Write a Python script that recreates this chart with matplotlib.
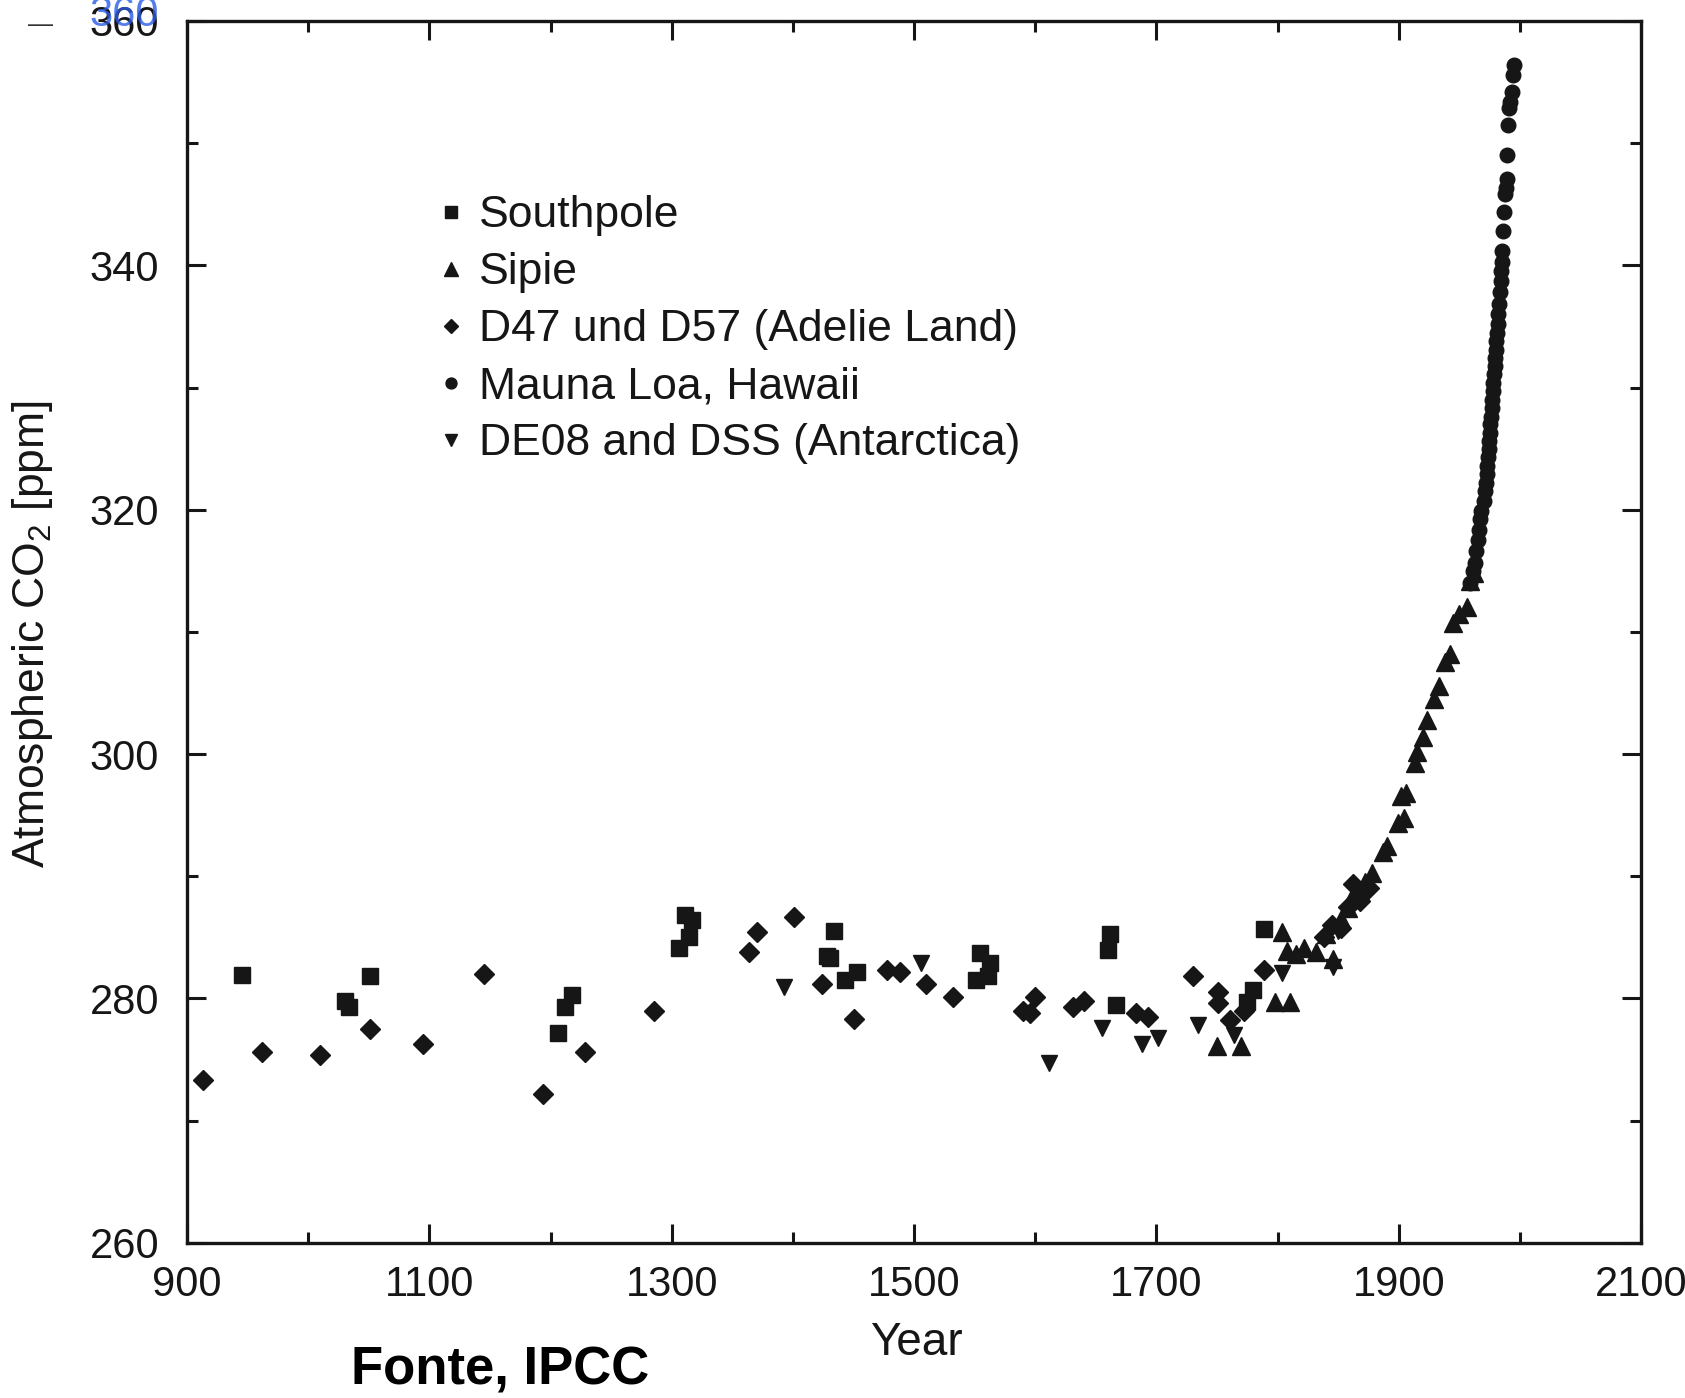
import matplotlib
matplotlib.use("Agg")
import matplotlib.pyplot as plt
from matplotlib.ticker import MultipleLocator

plt.rcParams['font.family'] = ['Liberation Sans', 'DejaVu Sans']
plt.rcParams['mathtext.fontset'] = 'custom'
plt.rcParams['mathtext.rm'] = 'Liberation Sans'
plt.rcParams['mathtext.it'] = 'Liberation Sans:italic'

# Southpole (squares)
southpole_year = [945, 1030, 1034, 1051, 1206, 1212, 1218, 1306, 1314, 1311,
                  1317, 1428, 1431, 1434, 1443, 1453, 1551, 1554, 1561, 1563,
                  1660, 1662, 1667, 1775, 1780, 1789]
southpole_co2 = [281.9, 279.8, 279.3, 281.8, 277.2, 279.3, 280.3, 284.1, 285.0, 286.8,
                 286.4, 283.5, 283.3, 285.5, 281.5, 282.2, 281.5, 283.7, 281.8, 282.9,
                 284.0, 285.3, 279.5, 279.7, 280.7, 285.7]

# Siple (up triangles)
sipie_year = [1750, 1770, 1798, 1804, 1808, 1810, 1815, 1822, 1832, 1840,
              1846, 1852, 1858, 1863, 1868, 1872, 1878, 1887, 1890, 1899,
              1902, 1904, 1906, 1913, 1915, 1920, 1923, 1929, 1933, 1938,
              1942, 1945, 1950, 1956, 1959, 1962]
sipie_co2 = [276.1, 276.1, 279.7, 285.4, 283.9, 279.7, 283.6, 284.1, 283.8, 285.3,
             283.2, 286.5, 287.4, 288.6, 288.8, 289.5, 290.3, 292.0, 292.5, 294.4,
             296.6, 294.8, 296.8, 299.3, 300.2, 301.4, 302.8, 304.5, 305.6, 307.5,
             308.2, 310.7, 311.5, 312.0, 314.2, 314.8]

# D47 / D57 Adelie Land (diamonds)
adelie_year = [913, 962, 1010, 1051, 1095, 1145, 1194, 1228, 1285, 1364,
               1370, 1401, 1424, 1450, 1478, 1488, 1510, 1532, 1590, 1596,
               1600, 1631, 1640, 1683, 1693, 1730, 1751, 1751, 1761, 1772,
               1789, 1838, 1845, 1852, 1858, 1862, 1868, 1875]
adelie_co2 = [273.3, 275.6, 275.4, 277.5, 276.3, 282.0, 272.2, 275.6, 279.0, 283.8,
              285.4, 286.7, 281.2, 278.3, 282.3, 282.2, 281.2, 280.1, 279.0, 278.8,
              280.1, 279.3, 279.8, 278.8, 278.5, 281.8, 280.5, 279.6, 278.2, 279.0,
              282.3, 285.0, 286.0, 285.8, 287.5, 289.4, 288.0, 289.0]

# Mauna Loa (circles)
maunaloa_year = [1959, 1961, 1963, 1964, 1965, 1966, 1967, 1968, 1970, 1971,
                 1972, 1972.5, 1973, 1973.5, 1974, 1974.5, 1975, 1975.5, 1976, 1976.5,
                 1977, 1977.5, 1978, 1978.5, 1979, 1979.5, 1980, 1980.5, 1981, 1981.5,
                 1982, 1982.5, 1983.5, 1984, 1984.5, 1985, 1985.5, 1986, 1987, 1988,
                 1988.5, 1989, 1989.5, 1990, 1991, 1992, 1993, 1994, 1995]
maunaloa_co2 = [314.0, 315.0, 315.6, 316.6, 317.5, 318.3, 319.2, 319.9, 320.7, 321.5,
                322.2, 322.9, 323.6, 324.3, 325.0, 325.6, 326.3, 327.0, 327.6, 328.3,
                329.0, 329.7, 330.4, 331.1, 331.8, 332.4, 333.1, 333.8, 334.5, 335.2,
                336.0, 336.8, 337.8, 338.7, 339.5, 340.3, 341.2, 342.8, 344.4, 345.8,
                346.3, 347.1, 349.0, 351.5, 352.9, 353.4, 354.2, 355.6, 356.4]

# DE08 / DSS Antarctica (down triangles)
de08_year = [1393, 1506, 1611, 1655, 1688, 1701, 1734, 1764, 1804, 1846, 1850, 1870]
de08_co2 = [280.9, 282.9, 274.7, 277.6, 276.3, 276.8, 277.8, 277.0, 282.1, 282.6, 285.5, 288.5]

labels = ['Southpole', 'Sipie', 'D47 und D57 (Adelie Land)',
          'Mauna Loa, Hawaii', 'DE08 and DSS (Antarctica)']
year_ticks = [900, 1100, 1300, 1500, 1700, 1900, 2100]

ink = '#161616'

fig = plt.figure(figsize=(16.85, 13.98), dpi=100)
ax = fig.add_axes([0.111, 0.111, 0.863, 0.874])

h1, = ax.plot(southpole_year, southpole_co2, ls='none', marker='s', ms=11.5, color=ink)
h2, = ax.plot(sipie_year, sipie_co2, ls='none', marker='^', ms=12.5, color=ink)
h3, = ax.plot(adelie_year, adelie_co2, ls='none', marker='D', ms=10, color=ink)
h4, = ax.plot(maunaloa_year, maunaloa_co2, ls='none', marker='o', ms=10.5, color=ink)
h5, = ax.plot(de08_year, de08_co2, ls='none', marker='v', ms=11.5, color=ink)

ax.set_xlim(900, 2100)
ax.set_ylim(260, 360)
ax.set_xticks(year_ticks)
ax.xaxis.set_minor_locator(MultipleLocator(100))
ax.yaxis.set_major_locator(MultipleLocator(20))
ax.yaxis.set_minor_locator(MultipleLocator(10))
ax.tick_params(which='both', direction='in', top=True, right=True, width=2.2, color=ink)
ax.tick_params(which='major', length=14, labelsize=30, labelcolor=ink)
ax.tick_params(which='minor', length=8)
ax.tick_params(axis='x', which='major', pad=16)
ax.tick_params(axis='y', which='major', pad=20)
for sp in ax.spines.values():
    sp.set_linewidth(2.4)
    sp.set_color(ink)

# blue pen overwrite of the top label in the scan
ax.annotate('360', xy=(0, 1), xycoords='axes fraction', xytext=(-20, 4),
            textcoords='offset points', ha='right', va='center',
            fontsize=30, color='#2a5be8', alpha=0.8)

leg = ax.legend([h1, h2, h3, h4, h5], labels, loc='upper left',
                bbox_to_anchor=(0.160, 0.872), frameon=False, fontsize=32,
                markerscale=0.75, handlelength=0.6, handletextpad=0.33,
                labelspacing=0.36, borderaxespad=0)
for t in leg.get_texts():
    t.set_color(ink)

fig.text(0.019, 0.5465, 'Atmospheric CO$_2$ [ppm]', rotation=90,
         ha='center', va='center', fontsize=32, color=ink)
fig.text(0.5436, 0.0393, 'Year', ha='center', va='center', fontsize=33, color=ink)
fig.text(0.2967, 0.02, 'Fonte, IPCC', ha='center', va='center',
         fontsize=38, fontweight='bold', color='black')
fig.text(0.024, 0.982, '—', ha='center', va='center', fontsize=18, color='#333333')

fig.savefig('out.png', dpi=100, facecolor='white')
